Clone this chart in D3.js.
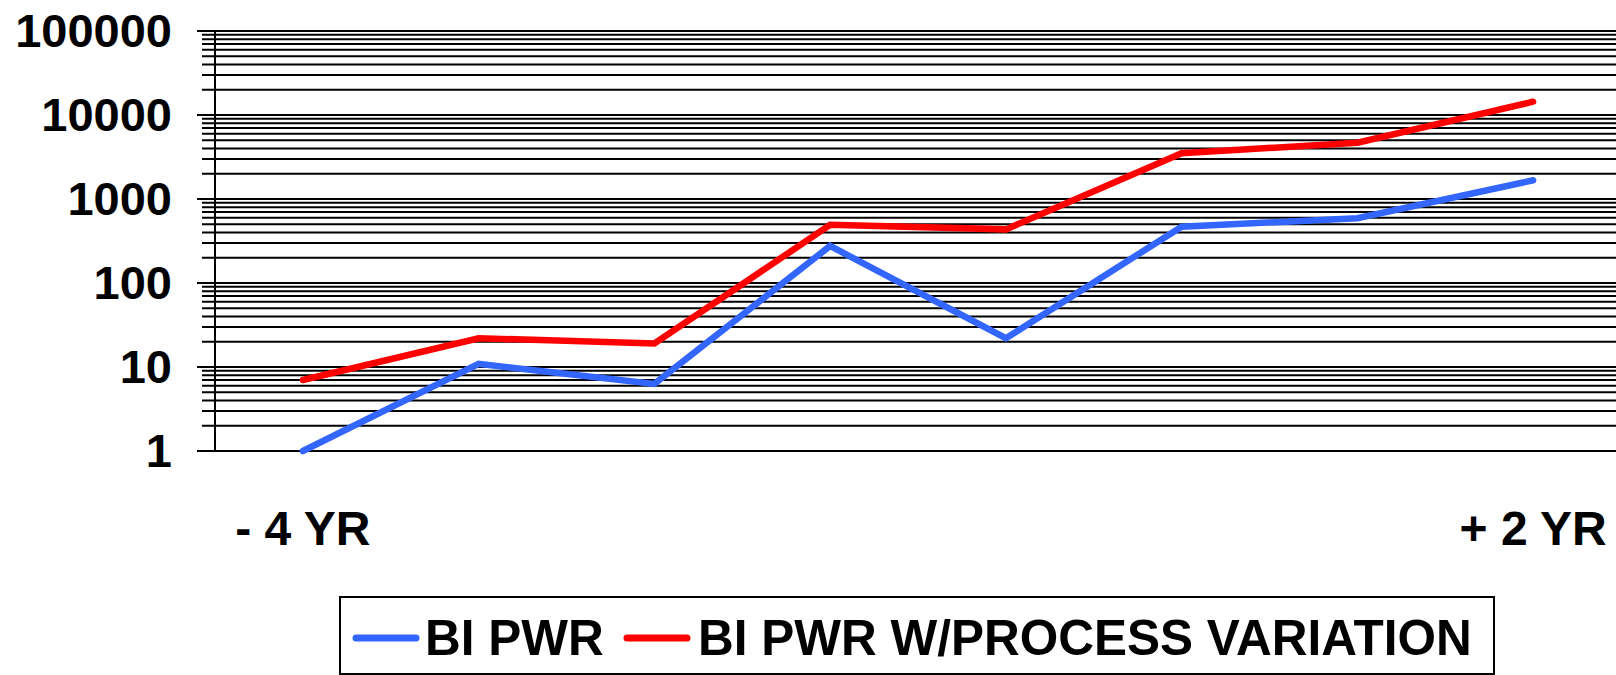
<!DOCTYPE html>
<html>
<head>
<meta charset="utf-8">
<script src="https://cdn.jsdelivr.net/npm/d3@7"></script>
<style>
  html, body { margin: 0; padding: 0; background: #fff; }
  svg { display: block; }
  text { font-family: "Liberation Sans", Arial, Helvetica, sans-serif; font-weight: bold; fill: #000; }
</style>
</head>
<body>
<svg id="chart" width="1616" height="675"></svg>
<script>
// Periods along the time axis (8 evenly spaced samples)
const periods = ["P1", "P2", "P3", "P4", "P5", "P6", "P7", "P8"];
const periodLabels = ["- 4 YR", "", "", "", "", "", "", "+ 2 YR"];

// Burn-in power, log scale
const biPwr = [1, 10.9, 6.3, 276, 22, 468, 590, 1670];
const biPwrProcVar = [7.0, 22, 19.1, 492, 435, 3500, 4680, 14400];

const yTickValues = [1, 10, 100, 1000, 10000, 100000];

const seriesNames = ["BI PWR", "BI PWR W/PROCESS VARIATION"];
const seriesColors = ["#3366ff", "#ff0000"];

const svg = d3.select("#chart");

const plotLeft = 215, plotRight = 1621, plotTop = 31, plotBottom = 451;

const x = d3.scaleBand().domain(periods).range([plotLeft, plotRight]).padding(0);
const y = d3.scaleLog().domain([1, 100000]).range([plotBottom, plotTop]);

const cx = p => x(p) + x.bandwidth() / 2;

// Grid: every log tick (1..9 per decade), majors reach further left
const allTicks = y.ticks();
const grid = svg.append("g");
grid.selectAll("line")
  .data(allTicks)
  .join("line")
  .attr("x1", d => yTickValues.includes(d) ? 197 : 202)
  .attr("x2", 1616)
  .attr("y1", d => y(d))
  .attr("y2", d => y(d))
  .attr("stroke", "#000")
  .attr("stroke-width", 2);

// Vertical axis line
svg.append("line")
  .attr("x1", plotLeft).attr("x2", plotLeft)
  .attr("y1", plotTop).attr("y2", plotBottom + 1)
  .attr("stroke", "#000").attr("stroke-width", 2);

// Y axis labels
const yAxis = d3.axisLeft(y)
  .tickValues(yTickValues)
  .tickFormat(d3.format("d"))
  .tickSize(0)
  .tickPadding(43);
const gy = svg.append("g").attr("transform", `translate(${plotLeft},0)`).call(yAxis);
gy.select(".domain").remove();
gy.selectAll("text")
  .attr("font-size", 47)
  .attr("font-family", "'Liberation Sans', Arial, sans-serif")
  .attr("font-weight", "bold")
  .attr("fill", "#000");

// X axis labels (only ends labelled)
const xAxis = d3.axisBottom(x)
  .tickFormat((d, i) => periodLabels[i])
  .tickSize(0)
  .tickPadding(0);
const gx = svg.append("g").attr("transform", `translate(0,528)`).call(xAxis);
gx.select(".domain").remove();
gx.selectAll("text")
  .attr("y", 0)
  .attr("dy", "0.35em")
  .attr("font-size", 48)
  .attr("font-family", "'Liberation Sans', Arial, sans-serif")
  .attr("font-weight", "bold")
  .attr("fill", "#000");

// Series lines
const line = d3.line()
  .x((d, i) => cx(periods[i]))
  .y(d => y(d));

[biPwr, biPwrProcVar].forEach((vals, k) => {
  svg.append("path")
    .datum(vals)
    .attr("d", line)
    .attr("fill", "none")
    .attr("stroke", seriesColors[k])
    .attr("stroke-width", 6.5)
    .attr("stroke-linejoin", "miter")
    .attr("stroke-linecap", "round");
});

// Legend
const legend = svg.append("g");
legend.append("rect")
  .attr("x", 340).attr("y", 597)
  .attr("width", 1154).attr("height", 77)
  .attr("fill", "#fff")
  .attr("stroke", "#000").attr("stroke-width", 2);

const legendItems = [
  { x0: 356, x1: 416, tx: 425 },
  { x0: 627, x1: 687, tx: 698 }
];
legendItems.forEach((it, k) => {
  legend.append("line")
    .attr("x1", it.x0).attr("x2", it.x1)
    .attr("y1", 638).attr("y2", 638)
    .attr("stroke", seriesColors[k])
    .attr("stroke-width", 7)
    .attr("stroke-linecap", "round");
  legend.append("text")
    .attr("x", it.tx).attr("y", 638)
    .attr("dy", "0.35em")
    .attr("font-size", 49.5)
    .text(seriesNames[k]);
});
</script>
</body>
</html>
